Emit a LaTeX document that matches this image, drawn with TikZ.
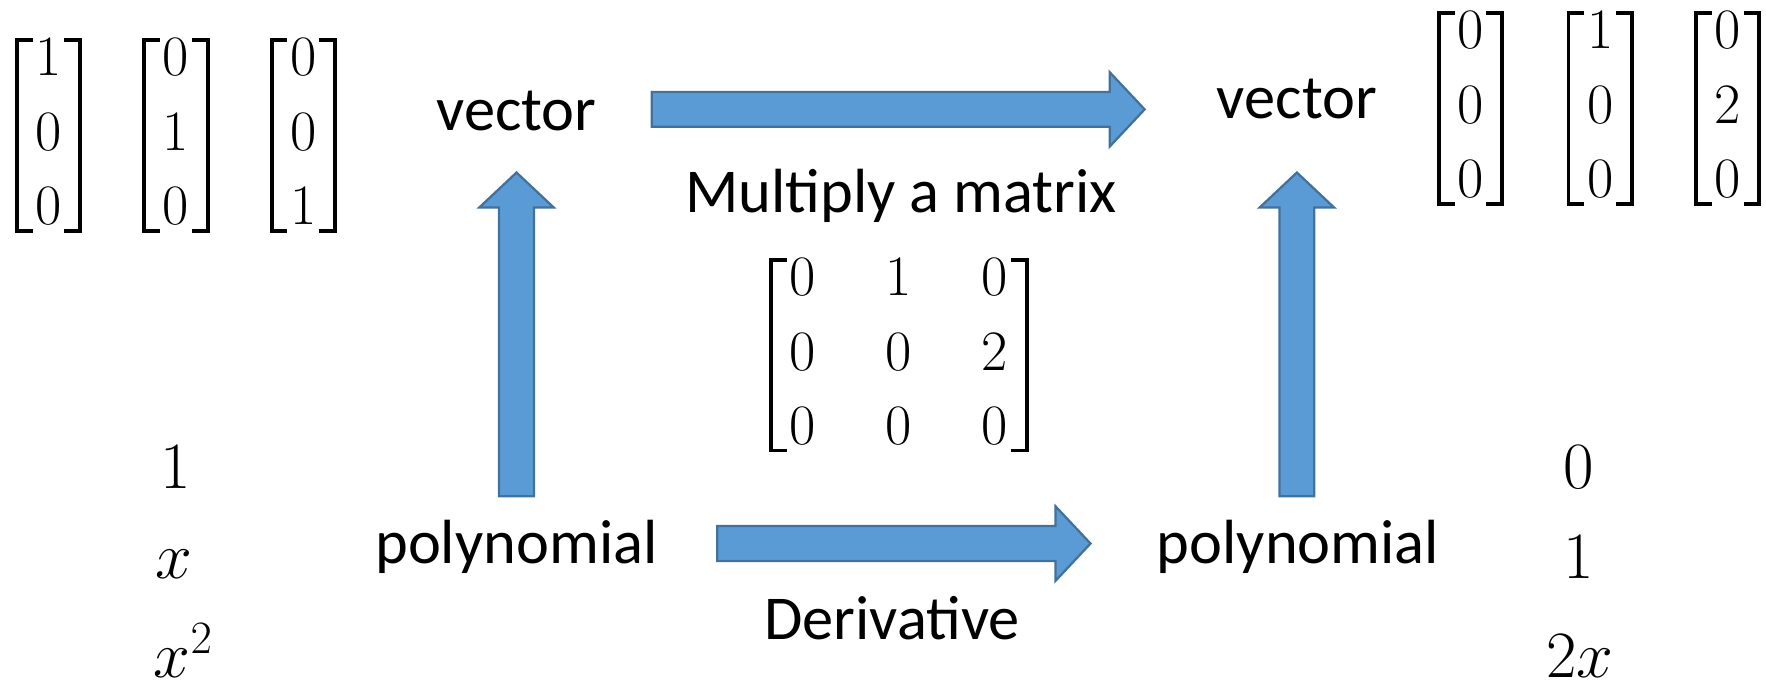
\RequirePackage{fix-cm}
\documentclass[tikz,border=0pt]{standalone}
\usepackage{fontspec}
\setmainfont{Carlito}
\usetikzlibrary{calc}

\definecolor{arrfill}{HTML}{5B9BD5}
\definecolor{arrline}{HTML}{41719C}

\tikzset{every picture/.style={line width=0.75pt}}
\tikzset{
  lbl/.style={anchor=base,inner sep=0pt,font=\fontsize{41.5}{50}\selectfont},
  vecm/.style={inner xsep=12pt,inner ysep=-11.25pt,font=\fontsize{38}{49.5}\selectfont},
  polym/.style={anchor=base,inner sep=0pt,font=\fontsize{44}{50}\selectfont},
  brk/.style={draw=black,line width=2.6pt,line join=miter},
  blockarr/.style={fill=arrfill,draw=arrline,line width=1.5pt,line join=miter}
}
\newcommand{\colvec}[3]{$\begin{array}{@{}c@{}}#1\\#2\\#3\end{array}$}
% square brackets round node #1
\newcommand{\brackets}[1]{%
  \draw[brk] ([xshift=10.5pt]#1.north west) -- (#1.north west) -- (#1.south west) -- ([xshift=10.5pt]#1.south west)
    ([xshift=-10.5pt]#1.north east) -- (#1.north east) -- (#1.south east) -- ([xshift=-10.5pt]#1.south east);}
% block arrow from coordinate #1 to coordinate #2
\newcommand{\blockarrow}[2]{%
  \coordinate (hb) at ($(#2)!23.25pt!(#1)$);
  \draw[blockarr] ($(#1)!11.6pt!90:(#2)$) -- ($(hb)!11.6pt!90:(#2)$) -- ($(hb)!24.75pt!90:(#2)$) -- (#2)
    -- ($(hb)!24.75pt!-90:(#2)$) -- ($(hb)!11.6pt!-90:(#2)$) -- ($(#1)!11.6pt!-90:(#2)$) -- cycle;}

\begin{document}
\begin{tikzpicture}[x=0.75pt,y=0.75pt,yscale=-1,xscale=1]
\useasboundingbox (0,0) rectangle (1566,606);
% basis vectors
\node[vecm] (vL1) at (43,120) {\colvec{1}{0}{0}};
\node[vecm] (vL2) at (156,120) {\colvec{0}{1}{0}};
\node[vecm] (vL3) at (269,120) {\colvec{0}{0}{1}};
\node[vecm] (vR1) at (1304,96) {\colvec{0}{0}{0}};
\node[vecm] (vR2) at (1419,96) {\colvec{1}{0}{0}};
\node[vecm] (vR3) at (1532,96) {\colvec{0}{2}{0}};
% labels
\node[lbl] (vecL) at (458,116) {vector};
\node[lbl] (vecR) at (1150,105) {vector};
\node[lbl] (mult) at (799,188) {Multiply a matrix};
\node[lbl] (polyL) at (458,500) {polynomial};
\node[lbl] (polyR) at (1151,500) {polynomial};
\node[lbl] (deriv) at (791,567) {Derivative};
% matrix
\node[vecm] (mat) at (797,315) {\arraycolsep=23.25pt
$\begin{array}{@{}ccc@{}}
  0 & 1 & 0 \\
  0 & 0 & 2 \\
  0 & 0 & 0
\end{array}$};
\foreach \v in {vL1,vL2,vL3,vR1,vR2,vR3,mat} {\brackets{\v}}
% polynomials
\node[polym] (pb1) at (156,433) {$1$};
\node[polym] (pb2) at (154,513) {$x$};
\node[polym,anchor=base west] (pb3) at (136,601) {$x^2$};
\node[polym] (pd1) at (1400,433) {$0$};
\node[polym] (pd2) at (1400,513) {$1$};
\node[polym] (pd3) at (1401,601) {$2x$};
% arrows
\coordinate (mulS) at (578,97);
\coordinate (mulE) at (1015,97);
\coordinate (derS) at (636,482);
\coordinate (derE) at (967,482);
\coordinate (encLS) at (458,440);
\coordinate (encLE) at (458,153);
\coordinate (encRS) at (1150,440);
\coordinate (encRE) at (1150,153);
\blockarrow{mulS}{mulE}
\blockarrow{derS}{derE}
\blockarrow{encLS}{encLE}
\blockarrow{encRS}{encRE}
\end{tikzpicture}
\end{document}
